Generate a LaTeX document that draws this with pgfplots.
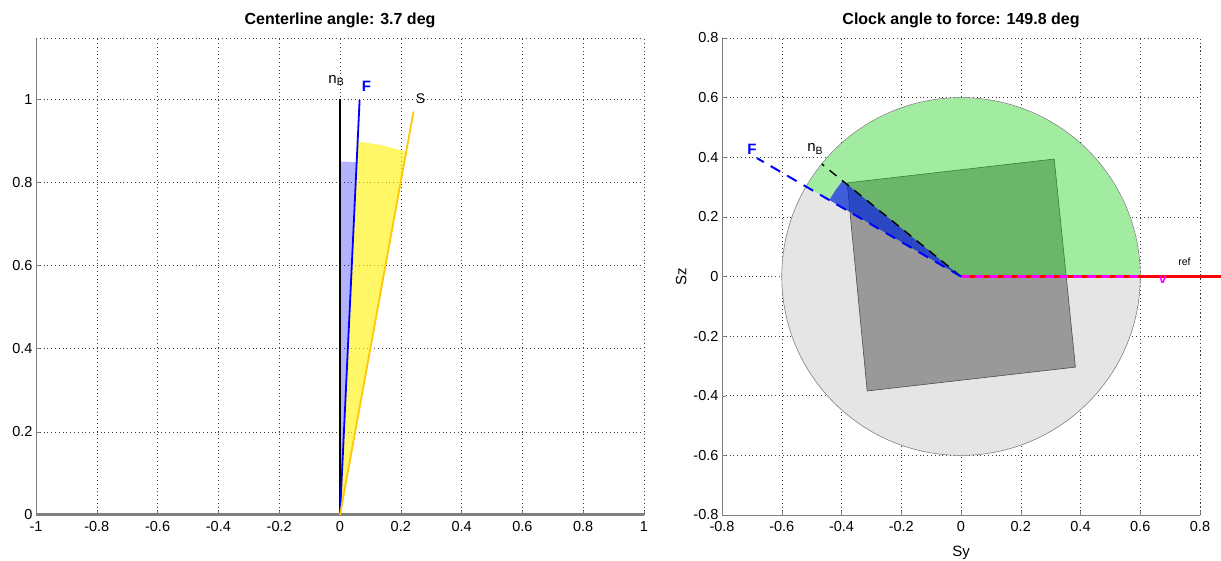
\documentclass[border=0pt]{standalone}
\usepackage{fontspec}
\setmainfont{Liberation Sans}
\usepackage{pgfplots}
\pgfplotsset{compat=1.18}
\definecolor{wedgeblue}{RGB}{0,0,255}
\definecolor{sline}{RGB}{255,200,0}
\definecolor{ringgray}{RGB}{229,229,229}
\definecolor{bodygray}{RGB}{153,153,153}
\definecolor{vpink}{RGB}{255,0,255}

\pgfplotsset{
  matlab/.style={
    scale only axis, anchor=south west,
    axis x line*=bottom, axis y line*=left,
    axis line style={gray, -},
    tick style={gray, thin},
    major tick length=4pt, tick align=inside,
    grid=major,
    grid style={black!75, line width=0.5pt, dash pattern=on 0.8pt off 3pt},
    tick label style={font=\fontsize{14.5}{16}\selectfont},
    xticklabel style={yshift=-3pt},
    label style={font=\fontsize{15}{17}\selectfont},
    title style={font=\bfseries\fontsize{16}{18}\selectfont, yshift=1pt},
    /pgf/number format/assume math mode=true,
  },
}

\begin{document}
\begin{tikzpicture}
\path[use as bounding box] (0,0) rectangle (1221pt,561pt);

% ---- left: centerline angle
\begin{axis}[matlab,
  at={(36pt,46pt)}, width=608pt, height=477pt,
  xmin=-1, xmax=1, ymin=0, ymax=1.147,
  xtick={-1,-0.8,-0.6,-0.4,-0.2,0,0.2,0.4,0.6,0.8,1},
  ytick={0,0.2,0.4,0.6,0.8,1},
  title={Centerline angle: 3.7 deg},
]
  \draw[black!75, dash pattern=on 0.8pt off 3pt, line width=0.5pt]
    (rel axis cs:0,1) -- (rel axis cs:1,1) -- (rel axis cs:1,0);
  % wedge n_B -> F
  \addplot[fill=wedgeblue, fill opacity=0.3, draw=none] coordinates {
    (0,0) (0,0.85) (0.0549,0.8482)} -- cycle;
  % wedge F -> S
  \addplot[fill=yellow, fill opacity=0.6, draw=none] coordinates {
    (0,0) (0.0581,0.8981) (0.1385,0.8893) (0.2177,0.8733)} -- cycle;
  \addplot[gray, line width=2pt] coordinates {(-1,0.003) (1,0.003)};
  \addplot[black, line width=1.8pt] coordinates {(0,0) (0,1)};
  \addplot[blue, line width=1.8pt] coordinates {(0,0) (0.0645,0.9979)};
  \addplot[sline, line width=1.8pt] coordinates {(0,0) (0.2419,0.9703)};
  \node[font=\fontsize{15}{17}\selectfont] at (axis cs:-0.012,1.045) {n\textsubscript{B}};
  \node[font=\bfseries\fontsize{15}{17}\selectfont, text=blue] at (axis cs:0.087,1.03) {F};
  \node[font=\fontsize{14}{16}\selectfont] at (axis cs:0.265,1.0) {S};
\end{axis}

% ---- right: clock angle
\begin{axis}[matlab,
  at={(722pt,46pt)}, width=478pt, height=477pt,
  xmin=-0.8, xmax=0.8, ymin=-0.8, ymax=0.8,
  xtick={-0.8,-0.6,-0.4,-0.2,0,0.2,0.4,0.6,0.8},
  ytick={-0.8,-0.6,-0.4,-0.2,0,0.2,0.4,0.6,0.8},
  xlabel={Sy}, ylabel={Sz},
  xlabel style={yshift=-7pt},
  clip=false,
  title={Clock angle to force: 149.8 deg},
]
  \draw[black!75, dash pattern=on 0.8pt off 3pt, line width=0.5pt]
    (rel axis cs:0,1) -- (rel axis cs:1,1) -- (rel axis cs:1,0);
  % sail disc
  \fill[ringgray, draw=gray, line width=0.6pt] (axis cs:0,0) ellipse [x radius=0.6, y radius=0.6];
  % body square
  \addplot[fill=bodygray, draw=black!70, line width=0.6pt] coordinates {
    (-0.381,0.314) (0.312,0.394) (0.383,-0.304) (-0.314,-0.384)} -- cycle;
  % clock sector 0 -> 149.8 deg
  \addplot[fill=green, fill opacity=0.29, draw=none] coordinates {
    (0,0) (0.6,0) (0.5909,0.1042) (0.5638,0.2052) (0.5196,0.3) (0.4596,0.3857)
    (0.3857,0.4596) (0.3,0.5196) (0.2052,0.5638) (0.1042,0.5909) (0,0.6)
    (-0.1042,0.5909) (-0.2052,0.5638) (-0.3,0.5196) (-0.3857,0.4596)
    (-0.4596,0.3857) (-0.5186,0.3018)} -- cycle;
  % wedge n_B -> F
  \addplot[fill=wedgeblue, fill opacity=0.6, draw=none] coordinates {
    (0,0) (-0.3963,0.3210) (-0.4198,0.2896) (-0.4408,0.2565)} -- cycle;
  \addplot[red, line width=2.6pt] coordinates {(0,0) (0.87,0)};
  \addplot[draw=vpink, line width=2.2pt, dash pattern=on 9pt off 5pt] coordinates {(0,0) (0.6,0)};
  \addplot[black, line width=1.4pt, dash pattern=on 9pt off 7pt] coordinates {(0,0) (-0.4663,0.3776)};
  \addplot[blue, line width=2pt, dash pattern=on 11pt off 8pt] coordinates {(0,0) (-0.683,0.397)};
  \node[font=\fontsize{15}{17}\selectfont] at (axis cs:-0.488,0.428) {n\textsubscript{B}};
  \node[font=\bfseries\fontsize{15}{17}\selectfont, text=blue] at (axis cs:-0.70,0.425) {F};
  \node[font=\fontsize{10.5}{12}\selectfont] at (axis cs:0.748,0.049) {ref};
  \node[font=\bfseries\fontsize{14}{16}\selectfont, text=vpink] at (axis cs:0.675,-0.012) {v};
\end{axis}
\end{tikzpicture}
\end{document}
